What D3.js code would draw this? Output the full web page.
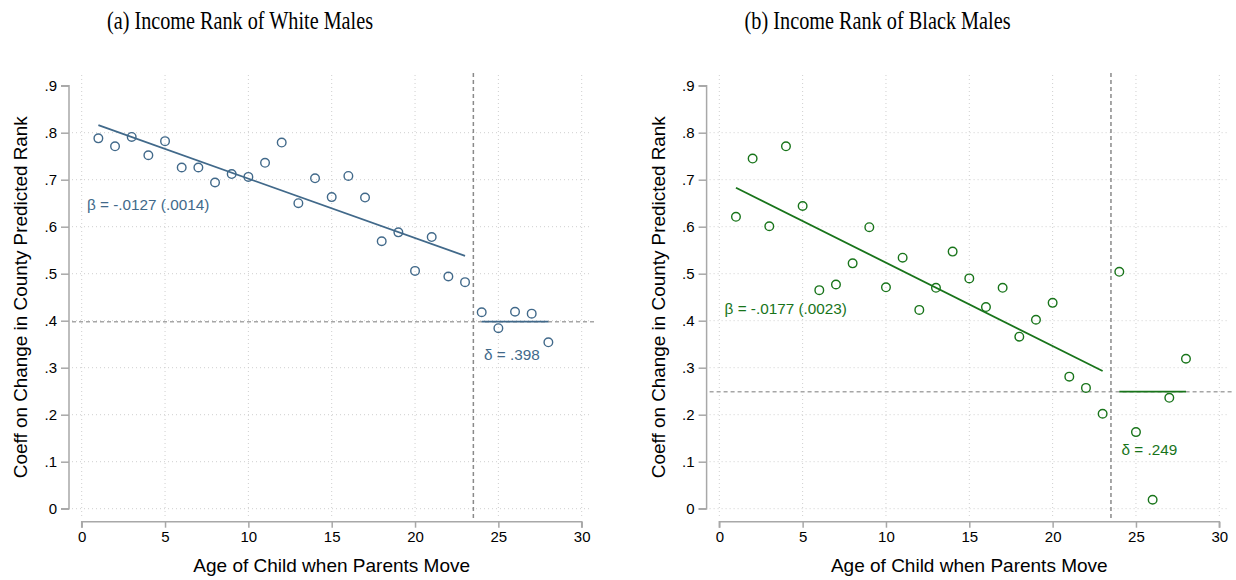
<!DOCTYPE html>
<html>
<head>
<meta charset="utf-8">
<script src="https://cdn.jsdelivr.net/npm/d3@7"></script>
<style>
  body { margin: 0; background: #fff; }
  svg { display: block; }
</style>
</head>
<body>
<div id="chart"></div>
<script>
// ages of child at move
const ages = [1, 2, 3, 4, 5, 6, 7, 8, 9, 10, 11, 12, 13, 14, 15, 16, 17, 18, 19, 20, 21, 22, 23, 24, 25, 26, 27, 28]

const whiteCoef = [0.788, 0.771, 0.791, 0.752, 0.782, 0.726, 0.726, 0.694, 0.712, 0.706, 0.736, 0.779, 0.650, 0.703,
  0.663, 0.708, 0.662, 0.569, 0.588, 0.506, 0.578, 0.494, 0.482, 0.418, 0.384, 0.419, 0.415, 0.354]

const blackCoef = [0.621, 0.745, 0.601, 0.771, 0.644, 0.465, 0.477, 0.522, 0.599, 0.471, 0.534, 0.423, 0.470, 0.547,
  0.490, 0.429, 0.470, 0.366, 0.402, 0.438, 0.281, 0.257, 0.202, 0.504, 0.163, 0.019, 0.236, 0.319]

// fitted line ends (age, value) and plateau after 23
const whiteFit = [[1, 0.816], [23, 0.538]]
const blackFit = [[1, 0.683], [23, 0.293]]
const whiteDelta = 0.398
const blackDelta = 0.249
const deltaAges = [24, 28]
const cutoff = 23.5

const xTicks = [0, 5, 10, 15, 20, 25, 30]
const yTicks = [0, 0.1, 0.2, 0.3, 0.4, 0.5, 0.6, 0.7, 0.8, 0.9]

const panels = [
  { title: '(a) Income Rank of White Males', values: whiteCoef, fit: whiteFit, delta: whiteDelta,
    color: '#41698a', beta: 'β = -.0127 (.0014)', deltaText: 'δ = .398', dx: 0, betaY: 205, deltaY: 355 },
  { title: '(b) Income Rank of Black Males', values: blackCoef, fit: blackFit, delta: blackDelta,
    color: '#18741a', beta: 'β = -.0177 (.0023)', deltaText: 'δ = .249', dx: 637.6, betaY: 309, deltaY: 450 }
]

const width = 1236
const height = 580

const svg = d3.select('#chart')
  .append('svg')
  .attr('width', width)
  .attr('height', height)

const sans = 'Liberation Sans, Arial, Helvetica, sans-serif'
const yFmt = d => d === 0 ? '0' : d3.format('.1f')(d).replace(/^0/, '')

panels.forEach(p => {
  const g = svg.append('g').attr('transform', `translate(${p.dx},0)`)

  const x = d3.scaleLinear().domain([0, 30]).range([81.7, 581.7])
  const y = d3.scaleLinear().domain([0, 0.9]).range([508.7, 85.7])

  // grid (no line at the top tick)
  g.append('g').selectAll('line')
    .data(yTicks.slice(0, -1))
    .join('line')
    .attr('x1', 72).attr('x2', 592)
    .attr('y1', d => y(d)).attr('y2', d => y(d))
    .attr('stroke', '#cfcfcf')
    .attr('stroke-width', 1)
    .attr('stroke-dasharray', '1,3')

  g.append('g').selectAll('line')
    .data(xTicks)
    .join('line')
    .attr('x1', d => x(d)).attr('x2', d => x(d))
    .attr('y1', 75).attr('y2', 519)
    .attr('stroke', '#cfcfcf')
    .attr('stroke-width', 1)
    .attr('stroke-dasharray', '1,3')

  // reference lines
  g.append('line')
    .attr('x1', 72).attr('x2', 594)
    .attr('y1', y(p.delta)).attr('y2', y(p.delta))
    .attr('stroke', '#a6a6a6')
    .attr('stroke-width', 1.5)
    .attr('stroke-dasharray', '4,3')

  g.append('line')
    .attr('x1', x(cutoff)).attr('x2', x(cutoff))
    .attr('y1', 73).attr('y2', 521)
    .attr('stroke', '#8a8a8a')
    .attr('stroke-width', 1.5)
    .attr('stroke-dasharray', '4,3')

  // axes
  const yAxis = g.append('g')
    .attr('transform', 'translate(69,0)')
    .call(d3.axisLeft(y).tickValues(yTicks).tickFormat(yFmt).tickSize(8).tickPadding(4))
  const xAxis = g.append('g')
    .attr('transform', 'translate(0,521.7)')
    .call(d3.axisBottom(x).tickValues(xTicks).tickSize(6).tickPadding(4))

  ;[yAxis, xAxis].forEach(a => {
    a.select('.domain').attr('stroke', '#a8a8a8').attr('stroke-width', 1.5)
    a.selectAll('.tick line').attr('stroke', '#a8a8a8').attr('stroke-width', 1.5)
    a.selectAll('.tick text').attr('fill', '#000').style('font-family', sans).style('font-size', '15px')
  })
  yAxis.select('.domain').attr('d', `M-8,${y(0)}H0V${y(0.9)}H-8`)
  xAxis.select('.domain').attr('d', `M${x(0)},6V0H${x(30)}V6`)

  // fit line and plateau
  g.append('path')
    .attr('d', d3.line().x(d => x(d[0])).y(d => y(d[1]))(p.fit))
    .attr('fill', 'none')
    .attr('stroke', p.color)
    .attr('stroke-width', 1.8)

  g.append('line')
    .attr('x1', x(deltaAges[0])).attr('x2', x(deltaAges[1]))
    .attr('y1', y(p.delta)).attr('y2', y(p.delta))
    .attr('stroke', p.color)
    .attr('stroke-width', 1.8)

  // points
  g.append('g').selectAll('circle')
    .data(ages.map((a, i) => [a, p.values[i]]))
    .join('circle')
    .attr('cx', d => x(d[0]))
    .attr('cy', d => y(d[1]))
    .attr('r', 4.3)
    .attr('fill', 'none')
    .attr('stroke', p.color)
    .attr('stroke-width', 1.4)

  // annotations
  g.append('text')
    .attr('x', 87)
    .attr('y', p.betaY)
    .attr('dy', '0.35em')
    .attr('fill', p.color)
    .style('font-family', sans).style('font-size', '15.3px')
    .text(p.beta)

  g.append('text')
    .attr('x', 484)
    .attr('y', p.deltaY)
    .attr('dy', '0.35em')
    .attr('fill', p.color)
    .style('font-family', sans).style('font-size', '15.3px')
    .text(p.deltaText)

  // titles
  g.append('text')
    .attr('x', 240).attr('y', 29)
    .attr('text-anchor', 'middle')
    .attr('textLength', 266)
    .attr('lengthAdjust', 'spacingAndGlyphs')
    .style('font-family', 'Liberation Serif, DejaVu Serif, serif')
    .style('font-size', '25px')
    .text(p.title)

  g.append('text')
    .attr('x', 331.7).attr('y', 572)
    .attr('text-anchor', 'middle')
    .style('font-family', sans).style('font-size', '19px')
    .text('Age of Child when Parents Move')

  g.append('text')
    .attr('transform', `translate(27,${(y(0) + y(0.9)) / 2}) rotate(-90)`)
    .attr('text-anchor', 'middle')
    .style('font-family', sans).style('font-size', '18.9px')
    .text('Coeff on Change in County Predicted Rank')
})
</script>
</body>
</html>
